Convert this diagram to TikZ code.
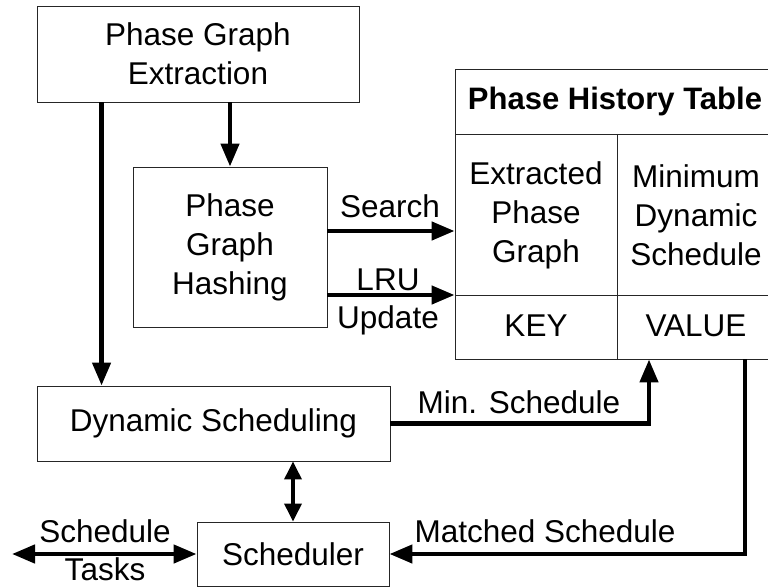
\documentclass[tikz,border=0pt]{standalone}
\usepackage{fontspec}
\setmainfont{Liberation Sans}
\usetikzlibrary{arrows.meta}
\tikzset{
  box/.style={draw=black!85, line width=0.9pt, inner sep=0pt, align=center},
  txt/.style={inner sep=0pt, align=center},
  flow/.style={line width=4.5pt, -{Triangle[length=23pt,width=18pt]}},
  flowboth/.style={line width=4.5pt, {Triangle[length=23pt,width=18pt]}-{Triangle[length=23pt,width=18pt]}},
  linkboth/.style={line width=3.5pt, {Triangle[length=18pt,width=17pt]}-{Triangle[length=18pt,width=17pt]}},
  grid/.style={draw=black!85, line width=0.9pt}
}
\begin{document}
\begin{tikzpicture}[x=1pt,y=-1pt,font=\fontsize{31.5}{39}\selectfont]
\useasboundingbox (0,0) rectangle (768,588);

% blocks
\node[box, minimum width=322pt, minimum height=96pt] (ext) at (198,54) {Phase Graph\\Extraction};
\node[box, minimum width=194pt, minimum height=160pt] (hash) at (230,247) {Phase\\Graph\\Hashing};
\node[box, minimum width=353pt, minimum height=75pt] (dyn) at (213.5,423.5) {Dynamic Scheduling};
\node[box, minimum width=192pt, minimum height=64pt] (sched) at (293,554) {Scheduler};

% history table
\node[box, minimum width=320pt, minimum height=290pt] (table) at (615,214) {};
\draw[grid] (455,134) -- (775,134);
\draw[grid] (617,134) -- (617,359);
\draw[grid] (455,295) -- (775,295);
\node[txt, font=\fontsize{31}{39}\selectfont\bfseries] (thead) at (615,101) {Phase History Table};
\node[txt] (kcell) at (536,215) {Extracted\\Phase\\Graph};
\node[txt] (vcell) at (696,215) {Minimum\\Dynamic\\Schedule};
\node[txt] (klabel) at (536,326) {KEY};
\node[txt] (vlabel) at (696,326) {VALUE};

% connectors
\coordinate (tapL) at ([xshift=65pt]ext.south west);
\draw[flow] (tapL) -- (tapL |- dyn.north);
\draw[flow] (hash.north |- ext.south) -- (hash.north);

\coordinate (srch) at ([yshift=16pt]hash.east);
\coordinate (lru) at ([yshift=-48pt]hash.east);
\draw[flow] (srch) -- (srch -| table.west);
\draw[flow] (lru) -- (lru -| table.west);

\coordinate (minIn) at ([xshift=34pt]table.south);
\draw[flow] (dyn.east) -| (minIn);

\coordinate (matchOut) at ([xshift=130pt]table.south);
\draw[flow] (matchOut) |- (sched.east);

\draw[linkboth] (sched.north |- dyn.south) -- (sched.north);

\coordinate (tasksEnd) at (12,554);
\draw[flowboth] (tasksEnd) -- (sched.west);

% connector labels
\node[txt, anchor=base] (lSearch) at (390,218) {Search};
\node[txt, anchor=base] (lLru) at (388,290) {LRU};
\node[txt, anchor=base] (lUpd) at (388,328) {Update};
\node[txt, anchor=base] (lMin) at (519,413) {Min. Schedule};
\node[txt, anchor=base] (lMatch) at (545,542) {Matched Schedule};
\node[txt, anchor=base] (lSch) at (105,542) {Schedule};
\node[txt, anchor=base] (lTasks) at (105,580) {Tasks};
\end{tikzpicture}
\end{document}
